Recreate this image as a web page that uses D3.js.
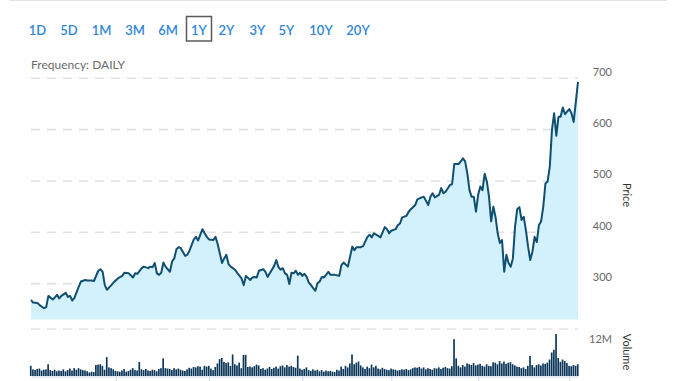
<!DOCTYPE html>
<html>
<head>
<meta charset="utf-8">
<script src="https://cdn.jsdelivr.net/npm/d3@7"></script>
<style>
  html, body { margin: 0; padding: 0; background: #fff; }
  svg { display: block; }
  text { font-family: Lato, "Open Sans", sans-serif; }
</style>
</head>
<body>
<svg id="chart" width="678" height="381"></svg>
<script>
// ---------------- data ----------------
const rangeButtons = ["1D", "5D", "1M", "3M", "6M", "1Y", "2Y", "3Y", "5Y", "10Y", "20Y"];
const selectedRange = "1Y";
const frequencyLabel = "Frequency: DAILY";

const priceTicks = [300, 400, 500, 600, 700];
const volumeTickLabel = "12M";
const volumeTickValue = 12;
const xTickDays = [39, 82, 125, 166, 206, 248];

// trading-day index and closing price
const priceDays = [0,1,3,4,6,7,8,10,11,12,13,14,16,17,18,19,20,22,23,25,26,28,29,31,32,33,34,35,37,38,40,42,43,45,47,48,49,51,52,54,55,56,57,58,59,60,61,62,64,65,66,67,68,69,71,72,73,75,76,77,79,80,81,82,84,85,86,88,89,90,91,92,94,95,97,98,99,101,102,103,104,105,107,108,109,110,112,113,114,115,116,117,118,119,120,121,122,123,124,125,126,127,128,129,130,131,132,133,134,135,137,138,140,142,143,144,146,148,149,150,152,153,155,156,157,158,160,161,163,164,165,166,168,169,170,171,173,174,175,177,178,180,181,183,184,185,186,188,189,190,191,193,194,195,197,198,199,200,201,202,203,204,205,206,207,208,209,210,211,212,213,214,215,216,217,218,219,220,221,222,223,224,225,226,227,228,229,230,231,232,233,234,235,236,237,238,239,240,241,242,243,244,245,246,247,248,249,250,251,252];
const prices = [268,263,262,258,252,254,276,269,273,278,271,276,282,274,276,267,272,294,304,307,306,306,305,325,328,323,297,288,297,302,310,315,321,320,312,320,319,330,333,330,333,332,340,320,317,321,341,333,323,343,349,367,371,369,354,356,364,386,391,384,406,398,391,386,385,391,377,340,349,356,338,333,327,321,310,297,315,307,312,313,312,325,328,323,313,320,334,346,332,327,330,320,317,299,321,320,325,317,321,315,319,313,302,297,291,286,301,304,313,312,323,317,317,315,336,341,333,372,365,371,371,373,391,395,390,398,393,390,410,406,398,403,406,414,417,429,432,440,445,453,464,468,469,453,469,476,468,473,486,476,479,492,494,533,533,538,544,538,515,482,469,469,440,473,489,482,514,499,469,421,450,430,398,379,385,323,356,340,333,349,411,445,449,424,430,404,372,346,362,391,381,414,421,450,495,499,528,599,632,588,625,625,643,630,635,640,632,615,654,693];

// daily volume in millions (one per trading day)
const volumes = [
  2.6,1.7,1.5,1.8,1.9,1.4,1.6,1.7,3.0,1.5,1.3,1.6,1.2,1.4,1.3,1.7,1.2,1.5,1.9,1.4,2.0,
  1.6,2.0,1.7,1.5,1.4,1.2,0.9,1.1,1.0,2.8,2.9,3.0,2.6,1.6,4.8,2.2,2.0,1.7,1.3,1.2,1.1,
  1.4,1.8,1.1,1.3,1.6,2.0,1.5,1.4,3.6,1.7,1.5,1.8,1.4,1.3,1.6,1.5,1.2,1.8,2.0,4.5,2.0,
  1.9,1.8,1.5,2.0,1.7,1.9,1.6,1.4,1.3,1.7,2.1,1.9,2.3,2.2,2.5,2.4,1.6,2.6,2.4,2.6,1.9,
  1.5,2.3,3.2,4.3,4.6,3.6,3.3,3.5,2.6,5.5,3.0,2.7,3.4,2.0,5.4,5.4,2.3,2.4,2.2,2.5,2.9,
  2.7,1.8,2.0,1.6,1.9,2.3,1.8,2.1,2.4,1.9,2.5,2.7,2.2,2.8,2.4,2.6,2.3,2.1,5.2,1.9,1.6,
  1.8,2.2,1.5,1.3,1.7,1.4,1.6,1.2,1.5,1.1,1.4,1.2,1.3,1.1,1.0,1.6,1.4,2.4,1.8,2.6,2.2,
  3.2,5.5,3.0,3.4,3.7,2.7,2.2,1.8,2.4,2.0,2.9,2.2,2.6,1.9,1.7,2.1,1.8,1.6,1.5,1.9,1.7,
  1.6,1.4,1.5,1.7,1.6,1.8,1.5,1.7,2.0,2.2,2.1,2.3,1.9,2.2,1.7,2.0,1.8,1.6,2.0,1.9,2.2,
  1.8,2.1,2.3,2.0,1.9,2.5,9.4,4.5,2.6,2.2,2.8,2.4,3.2,3.0,2.8,3.3,2.7,2.9,3.1,2.6,2.4,
  3.0,2.6,2.5,3.5,3.4,3.0,3.8,3.2,3.7,3.1,3.4,3.5,3.0,2.7,2.4,2.3,2.0,2.2,1.8,2.6,5.1,
  2.8,2.2,2.8,3.0,2.7,3.2,3.1,3.4,4.2,6.0,6.7,10.7,4.6,3.6,4.2,3.8,3.3,2.6,2.5,2.8,2.6,3.0
];

// ---------------- drawing ----------------
const svg = d3.select("#chart");
const plotLeft = 31, plotRight = 578;

const x = d3.scaleLinear().domain([0, volumes.length - 1]).range([plotLeft, plotRight]);
const yPrice = d3.scaleLinear().domain([230, 700]).range([319.5, 78.3]);
const yVol = d3.scaleLinear().domain([0, volumeTickValue]).range([376, 329]);

// top border line
svg.append("line").attr("x1", 9).attr("x2", 667).attr("y1", 0.5).attr("y2", 0.5)
  .attr("stroke", "#e3e3e3").attr("stroke-width", 1);

// range buttons
const btnCenters = [37.5, 69, 101.5, 135, 168, 199, 226.5, 257.5, 286.5, 321, 358];
const btnG = svg.append("g");
rangeButtons.forEach((b, i) => {
  if (b === selectedRange) {
    btnG.append("rect").attr("x", btnCenters[i] - 12.5).attr("y", 16.5)
      .attr("width", 25).attr("height", 24.5)
      .attr("fill", "#fff").attr("stroke", "#5a5a5a").attr("stroke-width", 1.5);
  }
  btnG.append("text").attr("x", btnCenters[i]).attr("y", 35)
    .attr("text-anchor", "middle").attr("font-size", 13).attr("font-weight", 600)
    .attr("fill", "#2f86d6").text(b);
});

svg.append("text").attr("x", 31).attr("y", 69).attr("font-size", 12)
  .attr("fill", "#6b6b6b").text(frequencyLabel);

// price gridlines
const grid = svg.append("g");
priceTicks.forEach(t => {
  grid.append("line").attr("x1", plotLeft).attr("x2", plotRight)
    .attr("y1", yPrice(t)).attr("y2", yPrice(t))
    .attr("stroke", "#e2e2e2").attr("stroke-width", 1.6).attr("stroke-dasharray", "9,7");
});
// volume pane top gridline
grid.append("line").attr("x1", plotLeft).attr("x2", plotRight)
  .attr("y1", yVol(volumeTickValue)).attr("y2", yVol(volumeTickValue))
  .attr("stroke", "#e2e2e2").attr("stroke-width", 1.6).attr("stroke-dasharray", "9,7");

// price area + line
const priceData = priceDays.map((d, i) => ({ day: d, price: prices[i] }));
const area = d3.area().x(d => x(d.day)).y0(yPrice(230)).y1(d => yPrice(d.price));
const line = d3.line().x(d => x(d.day)).y(d => yPrice(d.price));
svg.append("path").datum(priceData).attr("d", area).attr("fill", "#d2f1fc");
svg.append("path").datum(priceData).attr("d", line).attr("fill", "none")
  .attr("stroke", "#104f70").attr("stroke-width", 2).attr("stroke-linejoin", "round");

// volume bars
const step = x(1) - x(0);
svg.append("g").selectAll("rect").data(volumes).join("rect")
  .attr("x", (d, i) => x(i) - step / 2)
  .attr("width", step - 0.5)
  .attr("y", d => yVol(d))
  .attr("height", d => yVol(0) - yVol(d))
  .attr("fill", "#0b3558");

// x axis (labels fall below the visible area)
const xAxis = d3.axisBottom(x).tickValues(xTickDays).tickFormat(() => "").tickSize(10).tickSizeOuter(0);
const xg = svg.append("g").attr("transform", `translate(0,${yVol(0) + 0.5})`).call(xAxis);
xg.select(".domain").attr("stroke", "#ccd6eb");
xg.selectAll(".tick line").attr("stroke", "#ccd6eb");

// price axis labels
const yAxis = d3.axisRight(yPrice).tickValues(priceTicks).tickSize(0).tickFormat(d3.format("d"));
const yg = svg.append("g").attr("transform", "translate(612,0)").call(yAxis);
yg.select(".domain").remove();
yg.selectAll(".tick text").attr("x", 0).attr("dy", "-3px").attr("text-anchor", "end")
  .attr("font-size", 11).attr("font-family", "Lato, sans-serif").attr("fill", "#666");

// volume label
svg.append("text").attr("x", 612).attr("y", 343).attr("text-anchor", "end")
  .attr("font-size", 11).attr("fill", "#666").text(volumeTickLabel);

// axis titles
svg.append("text").attr("transform", "translate(627,195) rotate(90)")
  .attr("text-anchor", "middle").attr("dominant-baseline", "central")
  .attr("font-size", 11).attr("fill", "#333").text("Price");
svg.append("text").attr("transform", "translate(627,352) rotate(90)")
  .attr("text-anchor", "middle").attr("dominant-baseline", "central")
  .attr("font-size", 11).attr("fill", "#333").text("Volume");
</script>
</body>
</html>
